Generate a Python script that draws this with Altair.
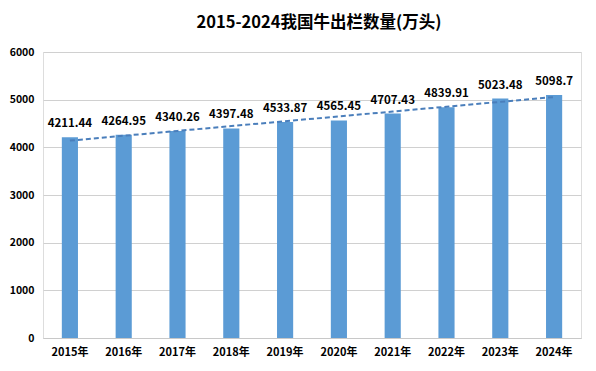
import altair as alt
import pandas as pd
import numpy as np

years = ["2015年", "2016年", "2017年", "2018年", "2019年", "2020年", "2021年", "2022年", "2023年", "2024年"]
values = [4211.44, 4264.95, 4340.26, 4397.48, 4533.87, 4565.45, 4707.43, 4839.91, 5023.48, 5098.7]
labels = ["4211.44", "4264.95", "4340.26", "4397.48", "4533.87", "4565.45", "4707.43", "4839.91", "5023.48", "5098.7"]
y_ticks = [0, 1000, 2000, 3000, 4000, 5000, 6000]
title_text = "2015-2024我国牛出栏数量(万头)"

idx = np.arange(len(values))
slope, intercept = np.polyfit(idx, values, 1)
trend = (slope * idx + intercept).tolist()

df = pd.DataFrame({"year": years, "value": values, "label": labels, "trend": trend})

FONT = "Noto Sans CJK SC"
W, H = 538, 286

x = alt.X("year:N", sort=years, title=None,
          scale=alt.Scale(paddingInner=0.7, paddingOuter=0.35),
          axis=alt.Axis(labelAngle=0, ticks=False, domainColor="#c8c8c8", labelFont=FONT,
                        labelFontSize=11, labelFontWeight="bold", labelColor="#000000", labelPadding=8))
y = alt.Y("value:Q", title=None,
          scale=alt.Scale(domain=[0, 6000], nice=False),
          axis=alt.Axis(values=y_ticks, format="d", grid=True, gridColor="#d0d0d0", gridWidth=1,
                        domain=False, ticks=False,
                        labelFont=FONT, labelFontSize=10.5, labelFontWeight="bold",
                        labelColor="#000000", labelPadding=9))

base = alt.Chart(df)

bars = base.mark_bar(color="#5b9bd5").encode(x=x, y=y)

text = base.mark_text(baseline="bottom", dy=-8, font=FONT, fontSize=11.5, fontWeight="bold",
                      color="#000000").encode(x=alt.X("year:N", sort=years), y=alt.Y("value:Q"), text="label:N")

line = base.mark_line(color="#4a7ebb", strokeDash=[5, 3], strokeWidth=2).encode(
    x=alt.X("year:N", sort=years), y=alt.Y("trend:Q"))

title = alt.Chart(pd.DataFrame({"t": [title_text]})).mark_text(
    font=FONT, fontSize=16.5, fontWeight="bold", color="#000000", baseline="middle", align="center").encode(
    text="t:N", x=alt.value(W / 2 + 7), y=alt.value(-29))

chart = alt.layer(bars, line, text, title).properties(
    width=W, height=H,
    autosize=alt.AutoSizeParams(type="none"),
    padding={"left": 35, "top": 44, "right": 7, "bottom": 25},
).configure_view(strokeWidth=0).configure(background="#ffffff")

chart.save("out.html", embed_options={"renderer": "svg", "actions": False})
